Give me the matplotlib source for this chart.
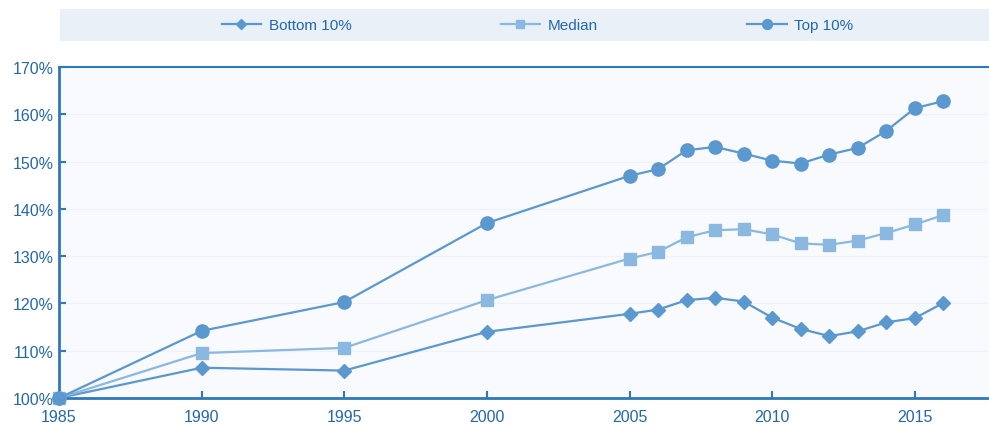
import numpy as np
import matplotlib
matplotlib.use('Agg')
import matplotlib.pyplot as plt
from matplotlib.patches import Rectangle
from matplotlib.ticker import FuncFormatter

plt.rcParams['font.family'] = ['Liberation Sans Narrow', 'Liberation Sans', 'DejaVu Sans']

# =============================================================================
# Data (index, 1985 = 100%)
# =============================================================================
years = [1985, 1990, 1995, 2000, 2005, 2006, 2007, 2008, 2009, 2010,
         2011, 2012, 2013, 2014, 2015, 2016]
bottom10 = [100, 106.4, 105.8, 114.0, 117.8, 118.7, 120.7, 121.2, 120.4, 117.0,
            114.6, 113.1, 114.1, 116.0, 116.9, 120.1]
median = [100, 109.5, 110.6, 120.7, 129.5, 130.9, 134.0, 135.5, 135.7, 134.6,
          132.7, 132.4, 133.3, 134.9, 136.7, 138.7]
top10 = [100, 114.2, 120.3, 137.0, 147.0, 148.4, 152.4, 153.1, 151.7, 150.2,
         149.6, 151.5, 152.9, 156.5, 161.3, 162.8]

xticks = [1985, 1990, 1995, 2000, 2005, 2010, 2015]
yticks = [100, 110, 120, 130, 140, 150, 160, 170]

# colours
c_dark = '#5a98cf'
c_light = '#8bb8e0'
c_axis = '#2f78bb'
c_text = '#2268ad'

fig = plt.figure(figsize=(9.89, 4.27), dpi=100)
ax = fig.add_axes([0.0597, 0.0656, 0.9403, 0.775])
ax.set_facecolor('#f8fafd')

ax.plot(years, bottom10, color=c_dark, lw=1.6, marker='D', ms=7,
        label='Bottom 10%', clip_on=False, zorder=3)
ax.plot(years, median, color=c_light, lw=1.6, marker='s', ms=8.5,
        label='Median', clip_on=False, zorder=3)
ax.plot(years, top10, color=c_dark, lw=1.6, marker='o', ms=9.5,
        label='Top 10%', clip_on=False, zorder=3)

ax.set_xlim(1985, 2017.6)
ax.set_ylim(100, 170)
ax.set_xticks(xticks)
ax.set_yticks(yticks)
ax.yaxis.set_major_formatter(FuncFormatter(lambda v, p: f'{v:.0f}%'))
ax.grid(axis='y', color='#eef3f9', lw=0.8)
ax.set_axisbelow(True)

for s in ['left', 'bottom']:
    ax.spines[s].set_color(c_axis)
    ax.spines[s].set_linewidth(2)
ax.spines['top'].set_color(c_axis)
ax.spines['top'].set_linewidth(1.5)
ax.spines['right'].set_visible(False)
ax.tick_params(direction='in', length=5, width=1.5, color=c_axis,
               labelcolor=c_text, labelsize=11.5)
ax.tick_params(axis='x', pad=8)
ax.tick_params(axis='y', pad=4)

# legend band on top
fig.patches.append(Rectangle((0.061, 0.902), 0.939, 0.074,
                             transform=fig.transFigure,
                             facecolor='#e9f0f8', edgecolor='none'))
h, l = ax.get_legend_handles_labels()
leg = fig.legend(h, l, loc='center', bbox_to_anchor=(0.5435, 0.939), ncol=3,
                 frameon=False, fontsize=11, columnspacing=9.75,
                 handlelength=2.6, handletextpad=0.5, markerscale=0.75)
for t in leg.get_texts():
    t.set_color(c_text)

fig.savefig('out.png', dpi=100)
